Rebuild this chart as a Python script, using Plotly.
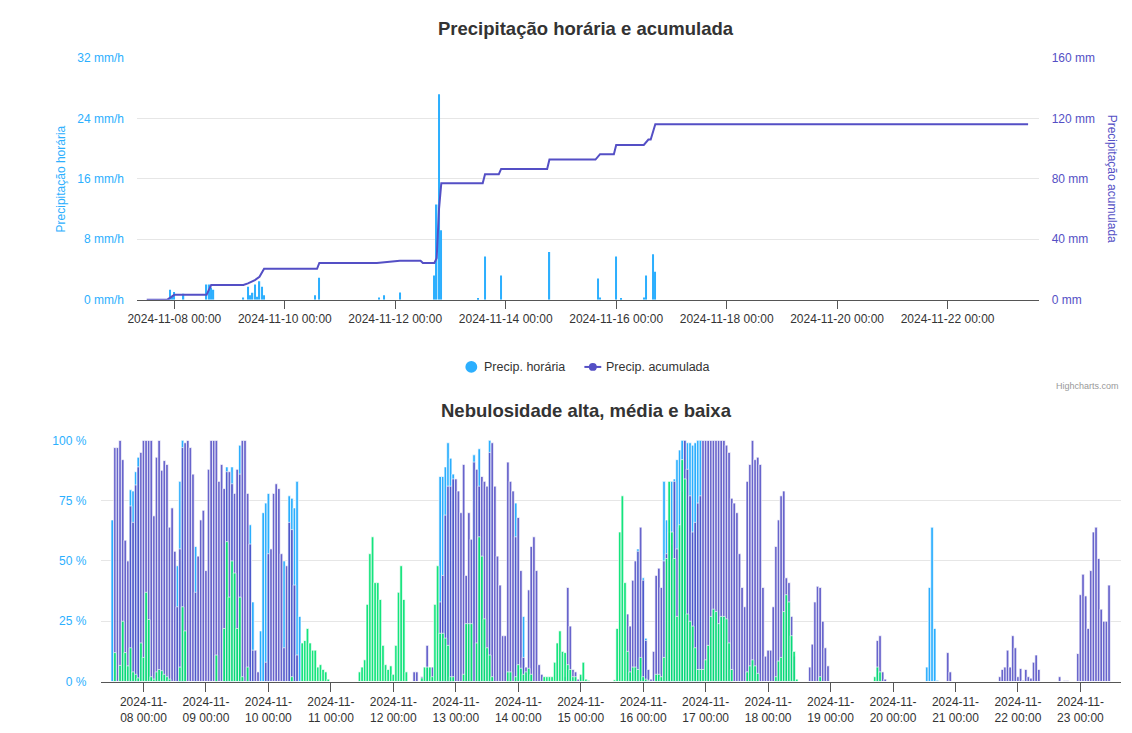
import plotly.graph_objects as go
import pandas as pd

# The page keeps the browser's 8px body margin, so the figure is 16px smaller
# than the window and every reference pixel position is shifted by 8px.
WIN_W, WIN_H = 1132, 733
PAD = 8
W, H = WIN_W - 2 * PAD, WIN_H - 2 * PAD

# ---------------- top chart data ----------------
precip_times = [
    "2024-11-07 22:00", "2024-11-07 23:00", "2024-11-08 00:00", "2024-11-08 04:00",
    "2024-11-08 14:00", "2024-11-08 15:00", "2024-11-08 16:00", "2024-11-08 17:00",
    "2024-11-09 06:00", "2024-11-09 08:00", "2024-11-09 09:00", "2024-11-09 10:00",
    "2024-11-09 11:00", "2024-11-09 12:00", "2024-11-09 13:00", "2024-11-09 14:00",
    "2024-11-09 15:00", "2024-11-10 13:00", "2024-11-10 15:00", "2024-11-11 17:00",
    "2024-11-11 19:00", "2024-11-12 02:00", "2024-11-12 17:00", "2024-11-12 18:00",
    "2024-11-12 19:00", "2024-11-12 20:00", "2024-11-13 12:00", "2024-11-13 15:00",
    "2024-11-13 22:00", "2024-11-14 19:00", "2024-11-15 16:00", "2024-11-15 17:00",
    "2024-11-16 00:00", "2024-11-16 02:00", "2024-11-16 12:00", "2024-11-16 13:00",
    "2024-11-16 16:00", "2024-11-16 17:00",
]
precip_values = [
    1.3, 0.4, 1.0, 0.8,
    2.0, 2.0, 1.6, 1.3,
    0.3, 1.7, 0.6, 0.9,
    2.0, 0.4, 2.45, 1.7,
    0.6, 0.6, 2.9, 0.3,
    0.6, 0.95, 3.2, 12.6,
    27.2, 9.2, 0.2, 5.7,
    3.2, 6.3, 2.8, 0.3,
    5.7, 0.2, 0.3, 3.2,
    6.0, 3.7,
]

acc_times = [
    "2024-11-07 12:00", "2024-11-07 21:00", "2024-11-08 00:00", "2024-11-08 14:00",
    "2024-11-08 16:00", "2024-11-09 06:00", "2024-11-09 08:00", "2024-11-09 11:00",
    "2024-11-09 13:00", "2024-11-09 15:00", "2024-11-10 14:00", "2024-11-10 15:00",
    "2024-11-11 16:00", "2024-11-11 19:00", "2024-11-12 02:00", "2024-11-12 11:00",
    "2024-11-12 12:00", "2024-11-12 17:00", "2024-11-12 18:00", "2024-11-12 19:00",
    "2024-11-12 20:00", "2024-11-13 14:00", "2024-11-13 15:00", "2024-11-13 21:00",
    "2024-11-13 22:00", "2024-11-14 18:00", "2024-11-14 19:00", "2024-11-15 15:00",
    "2024-11-15 17:00", "2024-11-15 23:00", "2024-11-16 00:00", "2024-11-16 12:00",
    "2024-11-16 14:00", "2024-11-16 15:00", "2024-11-16 17:00", "2024-11-23 11:00",
]
acc_values = [
    0.0, 0.0, 3.2, 3.2,
    9.7, 9.7, 10.8, 12.9,
    15.1, 20.4, 20.4, 24.3,
    24.3, 24.7, 25.8, 25.8,
    24.3, 24.3, 27.5, 59.8,
    77.0, 77.0, 83.0, 83.0,
    86.5, 86.5, 92.7, 92.7,
    96.3, 96.3, 102.4, 102.4,
    106.0, 106.0, 116.1, 116.1,
]

legend_labels = ["Precip. horária", "Precip. acumulada"]

# ---------------- bottom chart data (hourly, from 2024-11-07 12:00) ----------------
cloud_start = "2024-11-07 12:00"

cloud_high = [
    67, 0, 0, 0, 0, 0, 0, 79.5, 79, 87, 93, 0,                                   # 11-07 12h-23h
    0, 0, 0, 0, 0, 0, 0, 0, 0, 0, 0, 0, 0, 48, 83, 100, 0, 0, 0, 0, 56, 0, 0, 0,  # 11-08
    0, 0, 0, 0, 0, 0, 0, 0, 89, 0, 89, 0, 0, 98, 0, 0, 0, 65, 33, 0, 0, 21, 70, 74,  # 11-09
    78, 0, 0, 0, 0, 0, 50, 0, 77, 76, 72, 83, 27, 0, 0, 0, 0, 0, 0, 0, 0, 0, 0, 0,  # 11-10
    0, 0, 0, 0, 0, 0, 0, 0, 0, 0, 0, 0, 0, 0, 0, 0, 0, 0, 0, 0, 0, 0, 0, 0,        # 11-11
    0, 0, 0, 0, 0, 0, 0, 0, 0, 0, 0, 0, 0, 0, 0, 0, 0, 0, 85, 85, 89, 99, 92.6, 86,  # 11-12
    0, 0, 0, 0, 0, 0, 0, 94, 0, 96.5, 0, 0, 0, 100, 0, 0, 0, 0, 0, 0, 0, 0, 0, 74,  # 11-13
    0, 0, 27, 0, 0, 0, 0, 0, 0, 0, 0, 0, 0, 0, 0, 0, 0, 0, 0, 0, 0, 0, 0, 0,       # 11-14
    0, 0, 0, 0, 0, 0, 0, 0, 0, 0, 0, 0, 0, 0, 0, 0, 0, 0, 0, 0, 0, 0, 55, 0,       # 11-15
    43, 18, 0, 0, 0, 0, 0, 0, 83, 67, 67, 83, 84, 92, 96, 100, 100, 99, 99, 98, 99, 100, 100, 0,  # 11-16
    0, 0, 0, 0, 0, 0, 0, 0, 0, 0, 0, 0, 0, 0, 0, 0, 0, 0, 0, 0, 0, 0, 0, 0,        # 11-17
    0, 0, 0, 0, 0, 0, 0, 0, 0, 0, 0, 0, 0, 0, 0, 0, 0, 0, 0, 0, 0, 0, 0, 0,        # 11-18
    0, 0, 0, 0, 0, 0, 0, 0, 0, 0, 0, 0, 0, 0, 0, 0, 0, 0, 0, 0, 0, 0, 0, 0,        # 11-19
    0, 0, 0, 0, 0, 0, 0, 0, 0, 0, 0, 0, 0, 6, 39, 64, 22, 0.5, 0, 0, 0, 0, 0, 0,   # 11-20
    0, 0, 0, 0, 0, 0, 0, 0, 0, 0, 0, 0, 0, 0, 0, 0, 0, 0, 0, 0, 0, 0, 0, 0,        # 11-21
    0, 0, 0, 0, 0, 0, 0, 0, 0, 0, 0, 0, 0, 0, 0, 0, 0, 0, 0, 0, 0, 0, 0, 0,        # 11-22
    0, 0, 0, 0, 0, 0, 0, 0, 0, 0, 0, 0,                                           # 11-23 0h-11h
]

cloud_medium = [
    0, 97, 97, 100, 92, 58.6, 50, 72.8, 66, 81.5, 89, 95,
    100, 100, 100, 100, 68.7, 93, 100, 87.6, 91.6, 90, 64, 72, 54, 31, 55, 97, 99, 100, 97, 86, 37, 52, 67, 71,
    46, 88, 100, 100, 100, 83, 90, 80, 87, 87, 82, 78, 88, 86, 100, 100, 78, 57, 13, 13, 4, 0, 0, 8,
    53, 55, 78, 82, 80, 53, 14, 48, 66, 63, 40, 11, 0, 0, 0, 0, 0, 0, 0, 0, 0, 0, 0, 0,
    0, 0, 0, 0, 0, 0, 0, 0, 0, 0, 0, 0, 0, 0, 0, 0, 0, 0, 0, 0, 0, 0, 0, 0,
    0, 0, 0, 0, 0, 0, 0, 0, 4, 4, 0, 2, 0, 15, 0, 6, 0, 0, 33, 44, 69, 81, 81, 84,
    84, 79, 70, 90, 44, 70, 59, 91, 88, 81, 85, 83, 81, 95, 99, 81, 52, 40, 19, 19, 91, 83, 79, 60,
    68, 46, 10, 6, 38, 56, 60, 46, 7, 3, 0, 0, 0, 0, 0, 0, 0, 0, 2, 39, 23, 5, 4, 1,
    2, 0, 0, 0, 0, 0, 0, 0, 0, 0, 0, 0, 0, 0, 0, 0, 0, 0, 28, 23, 42, 50, 54, 64,
    42, 17, 5, 1, 12.5, 44, 47, 39, 50, 53, 62, 57, 83, 55, 64, 79, 100, 88, 77, 62, 66, 74, 77, 100,
    100, 100, 100, 100, 100, 100, 100, 100, 98, 95, 76, 74, 70, 53, 39, 31, 83, 90, 100, 92, 93, 90, 39, 10.5,
    13, 13, 31, 56, 67, 77, 79, 43, 41, 27, 10.5, 0, 0, 0, 0, 0, 6, 15.5, 33, 39.5, 39, 25, 14, 6.5,
    0, 0, 0, 0, 0, 0, 0, 0, 0, 0, 0, 0, 0, 0, 0, 0, 0, 0, 17, 19, 4, 1, 0, 0,
    0, 0, 0, 0, 0, 0, 0, 0, 0, 0, 0, 0, 0, 0, 0, 0, 0, 0, 0, 0, 0, 12, 4, 0,
    0, 0, 0, 0, 0, 0, 0, 0, 0, 0, 0, 0, 0, 0, 0, 0, 0, 2, 5, 6, 13, 6, 19, 14,
    2, 5.4, 0.5, 5, 2, 1.4, 8, 11, 5, 0, 0, 0, 0, 0, 0, 0, 2, 0, 0.4, 0.4, 0, 0, 0, 11.6,
    36, 44.5, 35.5, 22, 46, 62, 64, 51, 30, 25, 25, 40,
]

cloud_low = [
    0, 12, 0, 6.7, 25, 12, 6.5, 14, 4, 3, 1.5, 16,
    10, 37, 25.7, 2, 1, 4, 5, 4.5, 3, 2, 1, 0, 0, 0, 6, 31, 21, 0, 0, 0, 0, 0, 0, 0,
    0, 0, 0, 0, 11, 0, 0, 22, 58, 35, 50, 45, 22, 35, 2, 0, 6, 0, 0, 0, 0, 0, 0, 0,
    0, 0, 0, 0, 0, 0, 0, 0, 0, 2, 0, 0, 0, 16, 17, 22, 16, 13, 13, 6, 7, 5, 4, 1,
    0, 0, 0, 0, 0, 0, 0, 0, 0, 0, 0, 4, 6, 9, 32, 53, 60, 41, 41, 34, 15, 7, 5, 6.5,
    3, 15, 37, 48, 34, 4, 0, 0, 0, 0, 0, 1.5, 6, 6, 6, 2, 32, 48, 20, 20, 18, 15, 2, 2,
    0, 0, 0, 3, 24, 24, 24, 0, 16, 60, 52, 26, 14, 11, 2, 0, 0, 0, 0, 0, 4, 4, 0, 2,
    7, 5.5, 3, 4, 5.5, 3, 0, 0, 0, 0, 2, 2, 2, 2, 8, 16, 21, 12.5, 12, 7, 5, 2, 2, 0,
    3, 8, 1, 0.5, 0, 0, 0, 0, 0, 0, 0, 0, 0, 0.7, 22, 62, 77, 41, 12.5, 4, 6, 6, 5, 10,
    2, 1, 0.5, 0, 0, 3, 3, 2, 10, 51, 83, 62, 51, 27, 65, 92, 84, 28, 25, 23, 14, 5, 5, 5,
    9, 15, 27, 30, 29, 24, 27, 27, 26, 16, 5, 0, 0, 0, 0, 0, 4, 6.5, 9, 6.5, 3.4, 0, 0, 0,
    0, 0, 0, 2, 8.5, 10, 29, 36, 33, 19, 12.5, 1, 0, 0, 0, 0, 0, 0, 0, 0, 2, 0, 0, 0,
    0, 0, 0, 0, 0, 0, 0, 0, 0, 0, 0, 0, 0, 0, 0, 0, 0, 2, 6, 4, 0, 0, 0, 0,
    0, 0, 0, 0, 0, 0, 0, 0, 0, 0, 0, 0, 0, 0, 0, 0, 0, 0, 0, 0, 0, 0, 0, 0,
    0, 0, 0, 0, 0, 0, 0, 0, 0, 0, 0, 0, 0, 0, 0, 0, 0, 0, 0, 0, 0, 0, 0, 0,
    0, 0, 0, 0, 0, 0, 0, 0, 0, 0, 0, 0, 0, 0, 0, 0, 0, 0, 0, 0, 0, 0, 0, 0,
    0, 0, 0, 0, 0, 0, 0, 0, 0, 0, 0, 0,
]

cloud_times = pd.date_range(cloud_start, periods=len(cloud_medium), freq="h")

# ---------------- styling ----------------
FONT = "Liberation Sans, Arial, Helvetica, sans-serif"
C_BLUE = "#2caffe"
C_PURPLE = "#544fc5"
C_GREEN = "#00e272"
GRID = "#e6e6e6"
AXIS = "#555555"
TXT = "#333333"
HOUR = 3600 * 1000
X_RANGE = ["2024-11-07 07:47", "2024-11-23 15:36"]


def fx(px):
    return (px - PAD) / W


def fy(py):
    return 1 - (py - PAD) / H


fig = go.Figure()

fig.add_trace(go.Bar(
    x=precip_times, y=precip_values, width=0.6 * HOUR,
    marker=dict(color=C_BLUE, line=dict(width=0)),
    name=legend_labels[0], showlegend=False, xaxis="x", yaxis="y"))
fig.add_trace(go.Scatter(
    x=acc_times, y=acc_values, mode="lines",
    line=dict(color=C_PURPLE, width=2),
    name=legend_labels[1], showlegend=False, xaxis="x", yaxis="y3"))

for vals, col, nm, op in [(cloud_high, C_BLUE, "Nebulosidade alta", 1.0),
                          (cloud_medium, C_PURPLE, "Nebulosidade média", 0.88),
                          (cloud_low, C_GREEN, "Nebulosidade baixa", 0.92)]:
    fig.add_trace(go.Bar(
        x=cloud_times, y=vals, width=HOUR, opacity=op,
        marker=dict(color=col, line=dict(color="#ffffff", width=0.7)),
        name=nm, showlegend=False, xaxis="x2", yaxis="y2"))

tick_font = dict(family=FONT, size=12, color=TXT)

# hand-placed legend (Highcharts style: small symbol, text right next to it)
LEG_Y = 369
legend_shapes = [
    dict(type="circle", xref="paper", yref="paper", x0=fx(460), x1=fx(472),
         y0=fy(LEG_Y + 6), y1=fy(LEG_Y - 6), fillcolor=C_BLUE, line=dict(width=0)),
    dict(type="line", xref="paper", yref="paper", x0=fx(580), x1=fx(597),
         y0=fy(LEG_Y), y1=fy(LEG_Y), line=dict(color=C_PURPLE, width=2)),
    dict(type="circle", xref="paper", yref="paper", x0=fx(584.5), x1=fx(592.5),
         y0=fy(LEG_Y + 4), y1=fy(LEG_Y - 4), fillcolor=C_PURPLE, line=dict(width=0)),
]

fig.update_layout(
    width=W, height=H,
    margin=dict(l=0, r=0, t=0, b=0),
    paper_bgcolor="#ffffff", plot_bgcolor="#ffffff",
    font=dict(family=FONT, size=12, color=TXT),
    barmode="overlay",
    showlegend=False,
    shapes=legend_shapes,
    xaxis=dict(domain=[fx(129), fx(1038)], anchor="y", type="date", range=X_RANGE,
               tick0="2024-11-08", dtick=2 * 24 * HOUR, tickformat="%Y-%m-%d %H:%M",
               ticks="outside", ticklen=8, tickcolor=AXIS, showline=True, linecolor=AXIS,
               showgrid=False, zeroline=False, tickfont=tick_font),
    yaxis=dict(domain=[fy(300), fy(52)], anchor="x", range=[0, 32], dtick=8,
               ticksuffix=" mm/h", tickfont=dict(family=FONT, size=12, color=C_BLUE),
               gridcolor=GRID, gridwidth=1, zeroline=False, showline=False,
               ticklabelstandoff=12),
    yaxis3=dict(overlaying="y", side="right", anchor="x", range=[0, 160], dtick=40,
                ticksuffix=" mm", tickfont=dict(family=FONT, size=12, color=C_PURPLE),
                showgrid=False, zeroline=False, showline=False, ticklabelstandoff=12),
    xaxis2=dict(domain=[fx(93), fx(1121)], anchor="y2", type="date", range=X_RANGE,
                tick0="2024-11-08", dtick=24 * HOUR, tickformat="%Y-%m-<br>%d %H:%M",
                ticks="outside", ticklen=9, tickcolor=AXIS, showline=True, linecolor=AXIS,
                showgrid=False, zeroline=False, tickfont=tick_font),
    yaxis2=dict(domain=[fy(691.7), fy(444.3)], anchor="x2", range=[0, 100], dtick=25,
                ticksuffix=" %", tickfont=dict(family=FONT, size=12, color=C_BLUE),
                gridcolor=GRID, gridwidth=1, zeroline=False, showline=False,
                ticklabelstandoff=14),
    annotations=[
        dict(text="<b>Precipitação horária e acumulada</b>", x=fx(582), y=fy(22),
             xref="paper", yref="paper", showarrow=False, xanchor="center", yanchor="middle",
             font=dict(family=FONT, size=18.5, color=TXT)),
        dict(text="<b>Nebulosidade alta, média e baixa</b>", x=fx(582), y=fy(414),
             xref="paper", yref="paper", showarrow=False, xanchor="center", yanchor="middle",
             font=dict(family=FONT, size=18.5, color=TXT)),
        dict(text="Precipitação horária", x=fx(52), y=fy(176), xref="paper", yref="paper",
             showarrow=False, textangle=-90, xanchor="center", yanchor="middle",
             font=dict(family=FONT, size=12, color=C_BLUE)),
        dict(text="Precipitação acumulada", x=fx(1112), y=fy(176), xref="paper", yref="paper",
             showarrow=False, textangle=90, xanchor="center", yanchor="middle",
             font=dict(family=FONT, size=12, color=C_PURPLE)),
        dict(text=legend_labels[0], x=fx(477), y=fy(LEG_Y), xref="paper", yref="paper",
             showarrow=False, xanchor="left", yanchor="middle",
             font=dict(family=FONT, size=12.5, color=TXT)),
        dict(text=legend_labels[1], x=fx(600), y=fy(LEG_Y), xref="paper", yref="paper",
             showarrow=False, xanchor="left", yanchor="middle",
             font=dict(family=FONT, size=12.5, color=TXT)),
        dict(text="Highcharts.com", x=fx(1121), y=fy(389), xref="paper", yref="paper",
             showarrow=False, xanchor="right", yanchor="middle",
             font=dict(family=FONT, size=9, color="#999999")),
    ],
)

fig.write_html("out.html", config={"displayModeBar": False})
